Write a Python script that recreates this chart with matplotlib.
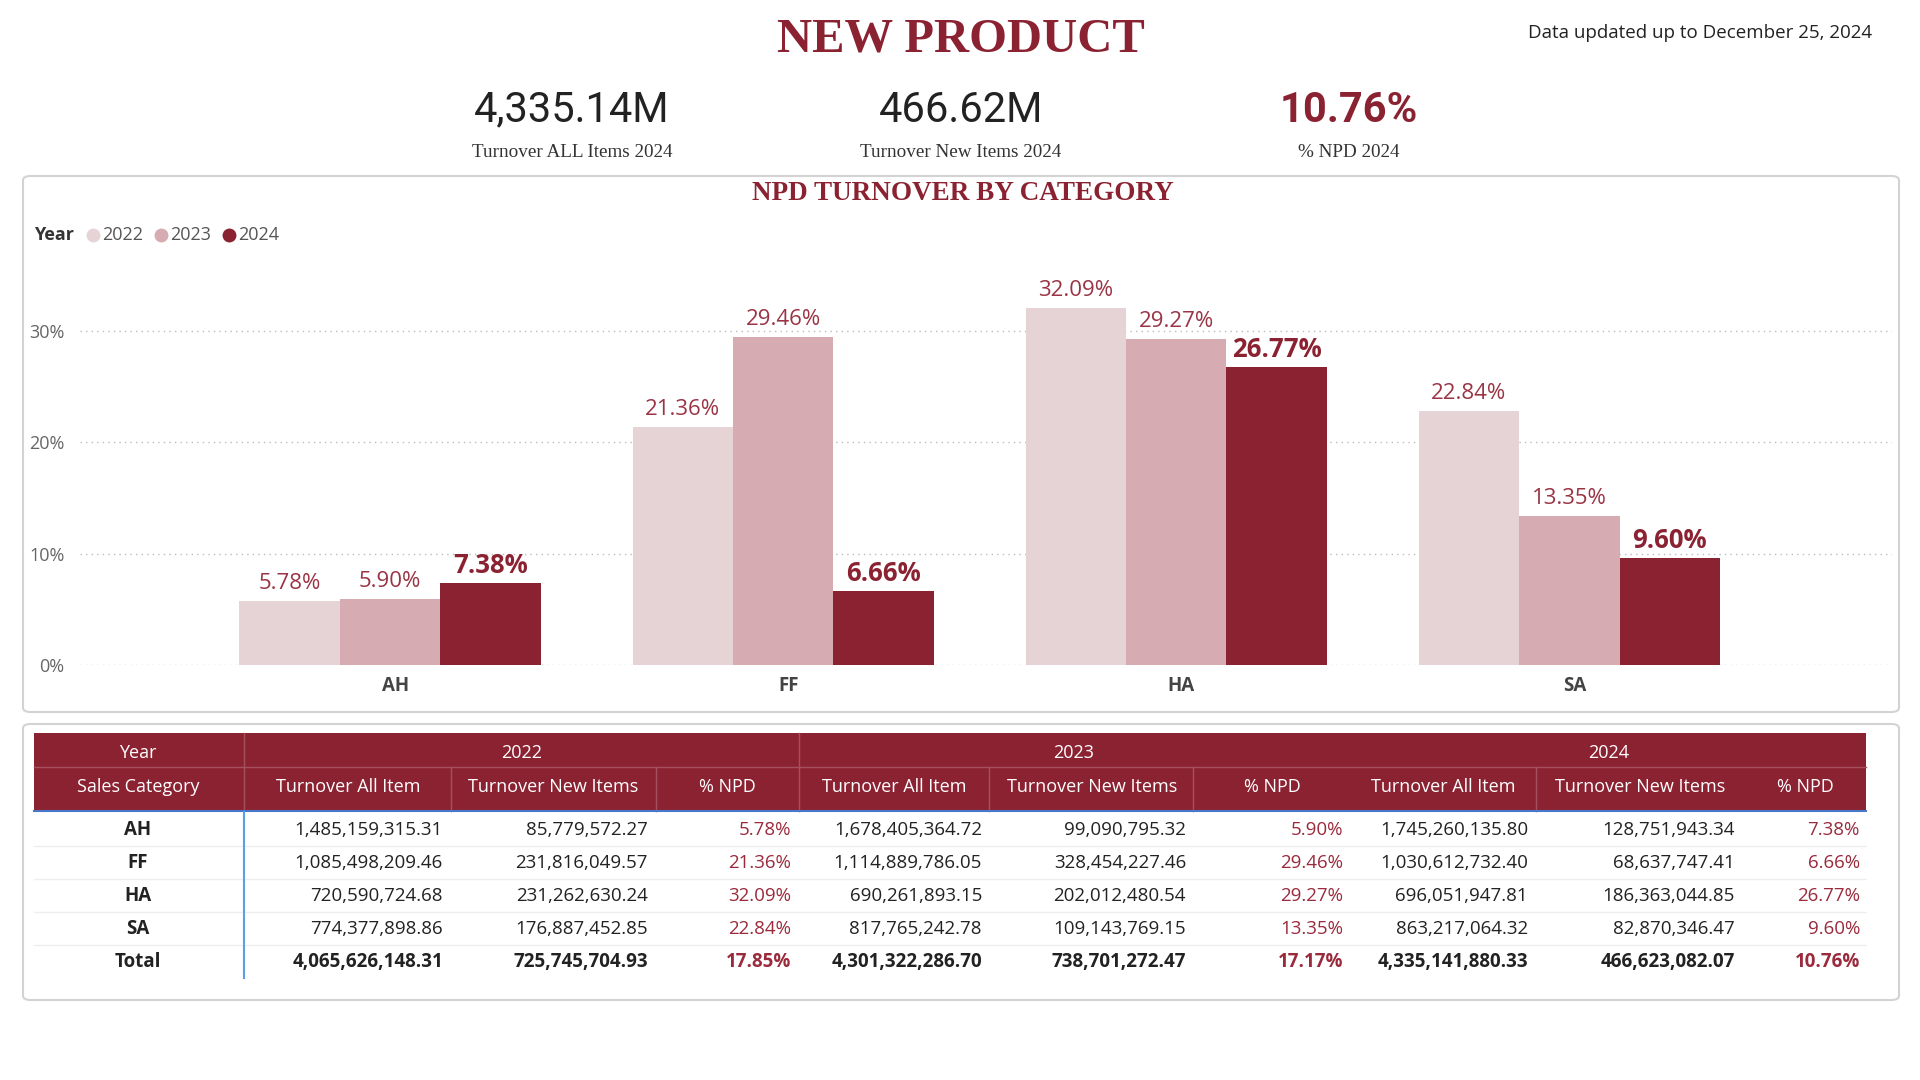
import matplotlib
matplotlib.use("Agg")
import matplotlib.pyplot as plt
from matplotlib.patches import FancyBboxPatch, Rectangle
from matplotlib.lines import Line2D

# ---------------- data ----------------
categories = ["AH", "FF", "HA", "SA"]
years = ["2022", "2023", "2024"]
npd_2022 = [5.78, 21.36, 32.09, 22.84]
npd_2023 = [5.90, 29.46, 29.27, 13.35]
npd_2024 = [7.38, 6.66, 26.77, 9.60]
yticks = [0, 10, 20, 30]

turnover_all_2022 = [1485159315.31, 1085498209.46, 720590724.68, 774377898.86, 4065626148.31]
turnover_new_2022 = [85779572.27, 231816049.57, 231262630.24, 176887452.85, 725745704.93]
pct_2022 = [5.78, 21.36, 32.09, 22.84, 17.85]
turnover_all_2023 = [1678405364.72, 1114889786.05, 690261893.15, 817765242.78, 4301322286.70]
turnover_new_2023 = [99090795.32, 328454227.46, 202012480.54, 109143769.15, 738701272.47]
pct_2023 = [5.90, 29.46, 29.27, 13.35, 17.17]
turnover_all_2024 = [1745260135.80, 1030612732.40, 696051947.81, 863217064.32, 4335141880.33]
turnover_new_2024 = [128751943.34, 68637747.41, 186363044.85, 82870346.47, 466623082.07]
pct_2024 = [7.38, 6.66, 26.77, 9.60, 10.76]
row_labels = ["AH", "FF", "HA", "SA", "Total"]

kpi_values = ["4,335.14M", "466.62M", "10.76%"]
kpi_labels = ["Turnover ALL Items 2024", "Turnover New Items 2024", "% NPD 2024"]

colors = ["#E6D3D6", "#D6ACB2", "#8B2232"]
RED = "#8B2232"

W, H = 1920, 1080
fig = plt.figure(figsize=(19.2, 10.8), dpi=100)
fig.patch.set_facecolor("white")

def fx(x): return x / W
def fy(y): return 1 - y / H

def txt(x, y, s, **kw):
    fig.text(fx(x), fy(y), s, **kw)

SANS = ["Open Sans", "DejaVu Sans"]
SERIF = ["Liberation Serif", "DejaVu Serif"]
NUM = ["Roboto", "DejaVu Sans"]

# ---------------- header ----------------
txt(961, 40, "NEW PRODUCT", family=SERIF, weight="bold", fontsize=35, color=RED,
    ha="center", va="center")
txt(1872, 33, "Data updated up to December 25, 2024", family=SANS, fontsize=13.5,
    color="#222222", ha="right", va="center")

kpi_x = [572, 961, 1349]
for i, (xv, v, lab) in enumerate(zip(kpi_x, kpi_values, kpi_labels)):
    txt(xv, 110, v, family=NUM, fontsize=30, color=RED if i == 2 else "#222222",
        weight="bold" if i == 2 else "normal", ha="center", va="center")
    txt(xv, 153, lab, family=SERIF, fontsize=13.8, color="#333333", ha="center", va="center")

# ---------------- panels ----------------
for (y0, y1) in [(176, 712), (724, 1000)]:
    box = FancyBboxPatch((fx(23), fy(y1)), fx(1899) - fx(23), fy(y0) - fy(y1),
                         boxstyle="round,pad=0,rounding_size=0.004",
                         transform=fig.transFigure, facecolor="none",
                         edgecolor="#D3D3D3", linewidth=1.5, zorder=0)
    fig.patches.append(box)

txt(963, 194, "NPD TURNOVER BY CATEGORY", family=SERIF, weight="bold", fontsize=19.5,
    color=RED, ha="center", va="center")

# legend
txt(34, 235, "Year", family=SANS, weight="bold", fontsize=13, color="#333333",
    ha="left", va="center")
leg_x = [93, 161, 229]
for lx, yr, c in zip(leg_x, years, colors):
    fig.lines.append(Line2D([fx(lx)], [fy(235)], transform=fig.transFigure, marker="o",
                            markersize=10, markerfacecolor=c, markeredgecolor="none",
                            linestyle="none"))
    txt(lx + 9, 235, yr, family=SANS, fontsize=13, color="#555555", ha="left", va="center")

# ---------------- bar chart ----------------
ax_top, ax_bot, ax_l, ax_r = 263, 665, 80, 1892
ax = fig.add_axes([fx(ax_l), fy(ax_bot), (ax_r - ax_l) / W, (ax_bot - ax_top) / H])
ax.set_facecolor("none")
ax.set_zorder(3)
series = [npd_2022, npd_2023, npd_2024]
bw = 0.2555
xs = list(range(len(categories)))
for k, (vals, c) in enumerate(zip(series, colors)):
    pos = [x + (k - 1) * bw for x in xs]
    ax.bar(pos, vals, width=bw, color=c, edgecolor="none", zorder=2)
    for p, v in zip(pos, vals):
        if k == 2:
            ax.annotate(f"{v:.2f}%", (p, v), xytext=(0, 3), textcoords="offset points",
                        ha="center", va="bottom", fontsize=18.5, weight="bold",
                        color=RED, family=SANS)
        else:
            ax.annotate(f"{v:.2f}%", (p, v), xytext=(0, 5), textcoords="offset points",
                        ha="center", va="bottom", fontsize=16, color="#9A3445",
                        family=SANS)
ax.set_xlim(-0.789, 3.821)
ax.set_ylim(0, 36.1)
ax.set_yticks(yticks)
ax.set_yticklabels([f"{t}%" for t in yticks], family=SANS, fontsize=13, color="#666666")
ax.set_xticks([x + 0.013 for x in xs])
ax.set_xticklabels(categories, family=SANS, fontsize=13.5, weight="bold", color="#444444")
ax.tick_params(axis="both", length=0)
ax.tick_params(axis="y", pad=11)
ax.tick_params(axis="x", pad=8)
for s in ax.spines.values():
    s.set_visible(False)
ax.yaxis.grid(True, linestyle=(0, (1, 3)), color="#BBBBBB", linewidth=1, zorder=0)
ax.set_axisbelow(True)

# ---------------- table ----------------
hx0, hx1 = 34, 1866
hy0, hy_mid, hy1 = 733, 767, 811
fig.patches.append(Rectangle((fx(hx0), fy(hy1)), fx(hx1) - fx(hx0), fy(hy0) - fy(hy1),
                             transform=fig.transFigure, facecolor=RED, edgecolor="none"))

def vline(x, y0, y1, color, lw=1.0):
    fig.lines.append(Line2D([fx(x), fx(x)], [fy(y0), fy(y1)], transform=fig.transFigure,
                            color=color, linewidth=lw))

def hline(x0, x1, y, color, lw=1.0):
    fig.lines.append(Line2D([fx(x0), fx(x1)], [fy(y), fy(y)], transform=fig.transFigure,
                            color=color, linewidth=lw))

DIV = "#A4505E"
for x in [244, 799]:
    vline(x, hy0, hy1, DIV)
for x in [451, 656, 989, 1193, 1536]:
    vline(x, hy_mid, hy1, DIV)
hline(hx0, hx1, hy_mid, DIV)
hline(hx0, hx1, hy1, "#4A78C8", lw=1.5)

hdr_font = dict(family=SANS, fontsize=13, color="white", va="center")
txt(138, 753, "Year", ha="center", **hdr_font)
txt(138, 787, "Sales Category", ha="center", **hdr_font)
for yx, yr in zip([522, 1074, 1609], years):
    txt(yx, 753, yr, ha="center", **hdr_font)
col_heads = ["Turnover All Item", "Turnover New Items", "% NPD"] * 3
col_centers = [348, 553, 727, 894, 1092, 1272, 1443, 1640, 1805]
for cx, h in zip(col_centers, col_heads):
    txt(cx, 787, h, ha="center", **hdr_font)

# body
row_y = [830, 863, 896, 929, 962]
for y in [846, 879, 912, 945]:
    hline(hx0, hx1, y, "#EEEEEE", lw=1.0)
vline(244, 812, 978, "#5AA0E6", lw=1.5)

col_right = [443, 648, 791, 982, 1186, 1343, 1528, 1735, 1860]
columns = [turnover_all_2022, turnover_new_2022, pct_2022,
           turnover_all_2023, turnover_new_2023, pct_2023,
           turnover_all_2024, turnover_new_2024, pct_2024]
for r, (ry, lab) in enumerate(zip(row_y, row_labels)):
    bold = lab == "Total"
    txt(138, ry, lab, family=SANS, fontsize=13.5, weight="bold", color="#222222",
        ha="center", va="center")
    for ci, (cr, col) in enumerate(zip(col_right, columns)):
        v = col[r]
        if ci % 3 == 2:
            s = f"{v:.2f}%"
            color = "#9A2A3C"
        else:
            s = f"{v:,.2f}"
            color = "#222222"
        txt(cr, ry, s, family=SANS, fontsize=13.5, weight="bold" if bold else "normal",
            color=color, ha="right", va="center")

fig.savefig("out.png", dpi=100, facecolor="white")
